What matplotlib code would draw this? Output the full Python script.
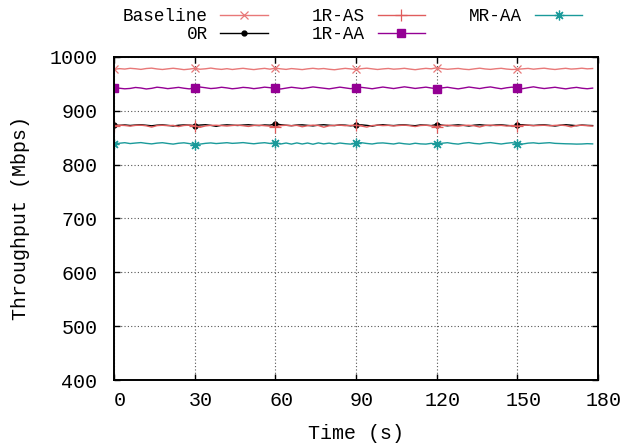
import matplotlib
matplotlib.use("Agg")
import matplotlib.pyplot as plt
import matplotlib.transforms as mtransforms
import numpy as np

plt.rcParams['font.family'] = ['Liberation Mono', 'DejaVu Sans Mono']

# sampled every 2 s, 0..178 s
time_s = np.arange(0, 180, 2)

baseline = [976.9, 978.4, 977.6, 979.0, 978.2, 977.0, 978.6, 979.3, 977.8, 976.8,
            978.0, 979.1, 977.9, 976.5, 977.5, 978.8, 977.3, 978.1, 979.4, 977.9,
            977.0, 978.3, 976.8, 978.0, 979.0, 977.7, 976.6, 977.9, 978.9, 977.4,
            979.2, 978.0, 977.0, 978.5, 977.6, 976.6, 978.0, 979.0, 977.8, 978.6,
            977.2, 976.3, 977.7, 978.9, 977.9, 977.0, 978.3, 979.2, 978.0, 976.8,
            977.9, 978.7, 977.4, 978.0, 979.0, 977.6, 976.4, 977.8, 978.9, 978.0,
            980.0, 978.4, 977.2, 978.0, 978.8, 977.4, 976.6, 978.0, 979.2, 977.8,
            977.0, 978.2, 979.0, 977.6, 976.8, 977.2, 978.0, 978.8, 977.4, 978.4,
            979.2, 977.8, 976.8, 978.0, 979.0, 977.6, 978.2, 979.2, 978.0, 978.6]

r0 = [873.4, 873.0, 873.8, 872.8, 873.6, 874.2, 873.2, 872.2, 873.4, 874.0,
      873.0, 871.8, 873.2, 873.8, 873.4, 872.6, 873.6, 874.2, 873.0, 871.2,
      873.2, 874.0, 873.4, 872.8, 873.6, 874.2, 873.2, 872.6, 873.8, 873.4,
      876.0, 874.2, 873.2, 872.4, 873.6, 874.0, 873.0, 872.0, 873.4, 874.2,
      873.2, 872.6, 873.8, 873.4, 872.2, 873.2, 874.0, 873.0, 871.6, 873.4,
      874.2, 873.2, 872.6, 873.6, 874.0, 873.0, 872.4, 873.8, 873.4, 872.6,
      874.6, 873.4, 872.2, 873.2, 874.0, 873.0, 871.8, 873.4, 874.2, 873.2,
      872.6, 873.6, 874.0, 873.0, 872.2, 873.4, 874.2, 873.2, 872.8, 873.6,
      874.0, 873.0, 871.8, 873.2, 874.2, 873.4, 872.4, 873.6, 873.0, 872.6]

r1_as = [872.4, 873.2, 872.8, 871.6, 873.0, 873.4, 872.2, 869.8, 872.6, 873.2,
         872.4, 873.0, 870.8, 872.8, 873.4, 872.2, 869.4, 872.0, 873.0, 873.2,
         872.6, 871.8, 872.8, 873.4, 872.4, 871.0, 872.8, 873.2, 872.4, 871.6,
         870.0, 872.6, 873.2, 872.4, 873.0, 870.4, 872.4, 873.4, 872.8, 869.6,
         872.2, 873.0, 873.4, 872.4, 872.8, 873.2, 871.8, 869.8, 872.6, 873.4,
         872.6, 873.0, 872.0, 872.8, 873.4, 872.4, 870.8, 872.8, 873.2, 872.2,
         870.6, 872.8, 873.4, 872.4, 871.6, 873.0, 873.2, 872.2, 870.0, 872.8,
         873.4, 872.6, 873.0, 871.8, 872.8, 871.4, 873.0, 873.4, 872.4, 872.8,
         873.2, 872.2, 873.0, 873.4, 872.6, 870.2, 872.8, 873.2, 872.4, 871.8]

r1_aa = [942.9, 942.0, 940.9, 941.6, 943.4, 942.4, 940.6, 941.8, 943.9, 942.8,
         941.2, 942.4, 943.6, 942.0, 940.8, 942.6, 944.2, 942.9, 941.4, 942.2,
         943.8, 942.6, 941.0, 942.0, 943.6, 942.8, 941.2, 942.4, 944.0, 943.0,
         942.2, 940.6, 942.2, 943.8, 942.6, 941.4, 942.8, 944.4, 943.2, 942.0,
         940.8, 942.4, 944.0, 942.6, 941.2, 942.2, 943.6, 942.4, 941.0, 942.6,
         944.2, 942.8, 941.4, 943.0, 944.6, 943.2, 941.6, 942.8, 944.0, 942.4,
         941.2, 942.6, 943.8, 942.2, 940.8, 942.4, 944.2, 942.8, 941.4, 943.2,
         944.4, 942.6, 941.0, 942.8, 944.0, 942.4, 941.2, 943.0, 944.6, 942.8,
         941.4, 942.6, 943.8, 942.2, 940.8, 942.4, 943.6, 942.0, 941.0, 942.2]

mr_aa = [837.8, 839.8, 840.8, 839.2, 840.2, 841.0, 839.6, 838.6, 840.0, 840.8,
         839.4, 838.2, 839.8, 840.6, 839.2, 837.4, 838.2, 839.6, 840.4, 839.2,
         840.0, 840.8, 839.6, 840.2, 841.0, 839.8, 838.8, 840.0, 840.8, 839.4,
         840.6, 838.4, 840.2, 838.2, 840.4, 838.4, 840.2, 838.0, 840.4, 838.6,
         840.0, 838.4, 840.2, 839.0, 838.2, 839.8, 840.8, 839.4, 838.4, 840.0,
         840.4, 839.4, 838.4, 840.2, 838.8, 838.0, 839.8, 838.6, 838.2, 839.6,
         838.4, 839.8, 840.8, 839.2, 838.2, 840.0, 841.0, 839.4, 838.6, 840.2,
         841.0, 839.6, 838.4, 839.8, 840.8, 839.2, 838.4, 840.0, 840.6, 839.4,
         840.2, 840.8, 839.6, 839.2, 838.8, 838.6, 838.2, 838.4, 839.0, 838.6]

fig = plt.figure(figsize=(6.25, 4.47), dpi=100)
ax = fig.add_axes([114 / 625, 1 - 380 / 447, 484 / 625, 323 / 447])

ax.plot(time_s, baseline, color='#e87878', lw=1.0, marker='x', ms=6, mew=0.9,
        markevery=15, label='Baseline')
ax.plot(time_s, r0, color='black', lw=1.0, marker='o', ms=3.5,
        markevery=15, label='0R')
ax.plot(time_s, r1_as, color='#e05c5c', lw=1.0, marker='+', ms=8, mew=0.9,
        markevery=15, label='1R-AS')
ax.plot(time_s, r1_aa, color='#940094', lw=1.0, marker='s', ms=6,
        markevery=15, label='1R-AA')
ax.plot(time_s, mr_aa, color='#1a9a9a', lw=1.0, marker=(8, 2, 0), ms=7, mew=0.9,
        markevery=15, label='MR-AA')

ax.set_xlim(0, 180)
ax.set_ylim(400, 1000)
ax.set_xticks(range(0, 181, 30))
ax.set_yticks(range(400, 1001, 100))
ax.grid(True, color='#555555', linestyle=(0, (1, 2)), lw=0.8)
ax.tick_params(direction='in', length=4, width=1, top=True, right=True,
               labelsize=14.4)
ax.tick_params(axis='y', pad=12)
ax.tick_params(axis='x', pad=8)
for sp in ax.spines.values():
    sp.set_linewidth(1.4)

# gnuplot puts the x labels a few pixels right of the ticks
shift = mtransforms.ScaledTranslation(6 / 100, 0, fig.dpi_scale_trans)
for lbl in ax.get_xticklabels():
    lbl.set_transform(lbl.get_transform() + shift)

ax.set_xlabel('Time (s)', fontsize=14.4, labelpad=10)
ax.set_ylabel('Throughput (Mbps)', fontsize=14.4, labelpad=14)

fig.legend(loc='upper left', bbox_to_anchor=(123 / 625, 1 - 8 / 447), ncol=3,
           frameon=False, markerfirst=False, fontsize=12.7, handlelength=2.7,
           handletextpad=0.7, columnspacing=2.5, labelspacing=0.05,
           borderpad=0, borderaxespad=0)

fig.savefig('out.png', dpi=100)
